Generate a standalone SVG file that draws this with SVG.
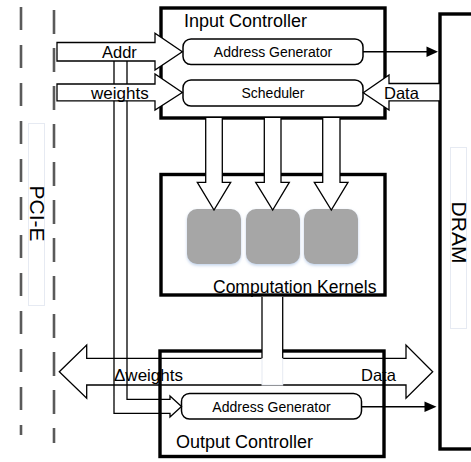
<svg xmlns="http://www.w3.org/2000/svg" width="471" height="462" viewBox="0 0 471 462">
  <style>
    text { font-family: "Liberation Sans", Arial, sans-serif; fill: #000; }
    .box { fill: #fff; stroke: #000; stroke-width: 3.4; }
    .unit { fill: #fff; stroke: #000; stroke-width: 1.5; }
    .bus { fill: #fff; stroke: #000; stroke-width: 1.3; stroke-linejoin: miter; }
    .open { fill: none; stroke: #000; stroke-width: 1.3; }
    .wire { fill: none; stroke: #000; stroke-width: 1.5; }
    .tag { fill: none; stroke: #e6eaf2; stroke-width: 1; }
    .border { stroke: #5a5a5a; stroke-width: 2.6; fill: none; }
    .kernel { fill: #a6a6a6; filter: url(#glow); }
  </style>
  <defs>
    <filter id="glow" x="-20%" y="-20%" width="140%" height="150%">
      <feDropShadow dx="0" dy="1.5" stdDeviation="1.8" flood-color="#b9cde8" flood-opacity="0.9"/>
    </filter>
  </defs>

  <rect width="471" height="462" fill="#fff"/>

  <!-- PCI-E boundary -->
  <g id="pcie">
    <line class="border" x1="21" y1="7" x2="21" y2="435" stroke-dasharray="23 15"/>
    <line class="border" x1="54" y1="10" x2="54" y2="443" stroke-dasharray="24 14"/>
    <rect class="tag" x="28.5" y="123.5" width="16" height="182"/>
    <text transform="translate(30,213.5) rotate(90)" font-size="21" text-anchor="middle">PCI-E</text>
  </g>

  <!-- DRAM -->
  <g id="dram">
    <rect class="box" x="440" y="14" width="60" height="435"/>
    <rect class="tag" x="450.5" y="147.5" width="16" height="181"/>
    <text transform="translate(452,232.5) rotate(90)" font-size="21" text-anchor="middle">DRAM</text>
  </g>

  <!-- Input Controller -->
  <g id="input-controller">
    <rect class="box" x="161" y="8" width="224" height="110"/>
    <text x="184" y="27" font-size="18">Input Controller</text>
    <g id="in-address-generator">
      <rect class="unit" x="183" y="39" width="180" height="25.5" rx="8"/>
      <text x="273" y="57" font-size="14" text-anchor="middle">Address Generator</text>
    </g>
    <g id="scheduler">
      <rect class="unit" x="183" y="80" width="180" height="26" rx="8"/>
      <text x="273" y="97.5" font-size="14" text-anchor="middle">Scheduler</text>
    </g>
  </g>

  <!-- Computation Kernels -->
  <g id="computation-kernels">
    <rect class="box" x="161" y="174.5" width="224" height="120.5"/>
    <rect class="kernel" x="187" y="209" width="54" height="55" rx="10"/>
    <rect class="kernel" x="246" y="209" width="54" height="55" rx="10"/>
    <rect class="kernel" x="304" y="209" width="54" height="55" rx="10"/>
    <text x="213" y="293" font-size="17.5">Computation Kernels</text>
  </g>

  <!-- Output Controller -->
  <g id="output-controller">
    <rect class="box" x="160" y="351" width="224" height="105.5"/>
    <text x="176" y="448" font-size="18">Output Controller</text>
    <g id="out-address-generator">
      <rect class="unit" x="181.5" y="393.5" width="180" height="25.5" rx="8"/>
      <text x="271.5" y="412" font-size="14" text-anchor="middle">Address Generator</text>
    </g>
  </g>

  <!-- Connectors -->
  <g id="connectors">
    <!-- host-side address/weights path bending into the output address generator -->
    <polyline class="open" points="127,55 127,399.3 170,399.3 170,396 181.5,406.5 170,417 170,413.3 114,413.3 114,55"/>

    <!-- host buses into the input controller -->
    <polygon class="bus" points="57,42.5 155,42.5 155,33.3 182.3,51.7 155,70 155,61 57,61"/>
    <polygon class="bus" points="57,84 155,84 155,74 182.3,92.5 155,110 155,100.8 57,100.8"/>

    <!-- DRAM data into the scheduler -->
    <polygon class="bus" points="440,83.5 389,83.5 389,75 363.3,92.7 389,110 389,100.8 440,100.8"/>

    <!-- address generators to DRAM -->
    <line class="wire" x1="363" y1="51.7" x2="428" y2="51.7"/>
    <polygon points="426.5,46.5 438,51.7 426.5,57" fill="#000"/>
    <line class="wire" x1="361.5" y1="406.7" x2="426" y2="406.7"/>
    <polygon points="424.5,401.5 436.5,406.7 424.5,412" fill="#000"/>

    <!-- scheduler dispatch to the kernels -->
    <polyline class="bus" points="205.7,118 205.7,182.3 197.3,182.3 214,210 230.7,182.3 222.3,182.3 222.3,118"/>
    <polyline class="bus" points="264.3,118 264.3,182.3 255.7,182.3 272.7,210 289.3,182.3 281,182.3 281,118"/>
    <polyline class="bus" points="322.7,118 322.7,182.3 314.3,182.3 331.3,210 348,182.3 340,182.3 340,118"/>

    <!-- bidirectional host/DRAM bus -->
    <polygon class="open" points="59.3,371.7 86.7,345 86.7,358.3 406,358.3 406,345 432.7,371.7 406,398.3 406,385 86.7,385 86.7,398.3"/>

    <!-- kernel results joining the bus -->
    <rect x="262" y="358.3" width="20.7" height="26.7" fill="#fff" stroke="#e6eaf2" stroke-width="1"/>
    <rect x="262" y="296.8" width="20.7" height="62.5" fill="#fff"/>
    <line class="open" x1="262" y1="296.8" x2="262" y2="358.3"/>
    <line class="open" x1="282.7" y1="296.8" x2="282.7" y2="358.3"/>

    <text x="102" y="58.3" font-size="16.5">Addr</text>
    <text x="91" y="98.5" font-size="17">weights</text>
    <text x="384" y="99.3" font-size="16.5">Data</text>
    <text x="114" y="381" font-size="17">Δweights</text>
    <text x="361" y="381" font-size="16.5">Data</text>
  </g>
</svg>
